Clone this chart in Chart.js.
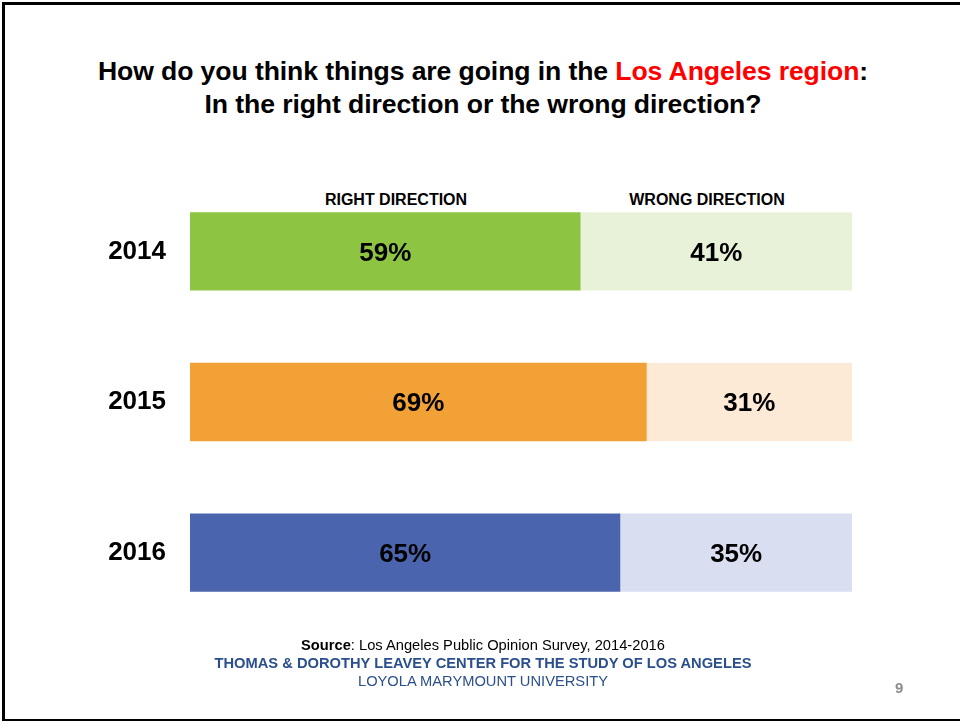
<!DOCTYPE html>
<html lang="en">
<head>
    <meta charset="UTF-8">
    <title>LA direction</title>
    <style>
        body {
            margin: 0;
            width: 960px;
            height: 721px;
            background: #fff;
            font-family: "Liberation Sans", Arial, sans-serif;
            position: relative;
            overflow: hidden;
        }
        #frame {
            position: absolute;
            left: 2px;
            top: 2px;
            width: 980px;
            height: 714px;
            border-left: 3px solid #000;
            border-top: 3px solid #000;
            border-bottom: 3px solid #000;
        }
        #title {
            position: absolute;
            left: 0;
            top: 55px;
            width: 966px;
            text-align: center;
            font-weight: bold;
            font-size: 26.6px;
            line-height: 33px;
            color: #000;
            letter-spacing: -0.1px;
        }
        #title .red { color: #ff0000; }
        .head {
            position: absolute;
            top: 190px;
            font-size: 16px;
            line-height: 20px;
            font-weight: bold;
            transform: translateX(-50%);
            white-space: nowrap;
        }
        #chartBox {
            position: absolute;
            left: 0;
            top: 0;
            width: 960px;
            height: 721px;
        }
        .foot {
            position: absolute;
            left: 0;
            width: 966px;
            text-align: center;
            font-size: 14.7px;
            line-height: 18px;
            white-space: nowrap;
        }
        #page {
            position: absolute;
            left: 895px;
            top: 679px;
            font-size: 15px;
            font-weight: bold;
            color: #8c8c8c;
        }
    </style>
</head>
<body>
    <div id="frame"></div>
    <div id="title">How do you think things are going in the <span class="red">Los Angeles region</span>:<br>In the right direction or the wrong direction?</div>
    <div class="head" style="left:396px">RIGHT DIRECTION</div>
    <div class="head" style="left:707px">WRONG DIRECTION</div>
    <div id="chartBox"><canvas id="myChart"></canvas></div>
    <div class="foot" style="top:636px"><b>Source</b>: Los Angeles Public Opinion Survey, 2014-2016</div>
    <div class="foot" style="top:654px; color:#2a4f8c; font-weight:bold">THOMAS &amp; DOROTHY LEAVEY CENTER FOR THE STUDY OF LOS ANGELES</div>
    <div class="foot" style="top:672px; color:#2a4f8c">LOYOLA MARYMOUNT UNIVERSITY</div>
    <div id="page">9</div>

    <script src="https://cdn.jsdelivr.net/npm/chart.js"></script>
    <script>
        // chart data
        var years = ['2014', '2015', '2016'];
        var rightDirection = [59, 69, 65];
        var wrongDirection = [41, 31, 35];

        var rightColors = ['#8dc542', '#f2a136', '#4a65ae'];
        var wrongColors = ['#e8f2d9', '#fdead6', '#d9dff0'];

        // draws the percent in the middle of every bar piece
        var barLabels = {
            id: 'barLabels',
            afterDatasetsDraw: function(chart) {
                var ctx = chart.ctx;
                ctx.save();
                ctx.font = 'bold 26px "Liberation Sans", Arial, sans-serif';
                ctx.fillStyle = '#000';
                ctx.textAlign = 'center';
                ctx.textBaseline = 'middle';
                chart.data.datasets.forEach(function(ds, i) {
                    chart.getDatasetMeta(i).data.forEach(function(bar, j) {
                        var p = bar.getProps(['x', 'y', 'base'], true);
                        ctx.fillText(ds.data[j] + '%', (p.x + p.base) / 2, p.y + 2);
                    });
                });
                ctx.restore();
            }
        };

        var ctx = document.getElementById('myChart').getContext('2d');
        window.myChart = new Chart(ctx, {
            type: 'bar',
            data: {
                labels: years,
                datasets: [{
                    label: 'Right direction',
                    data: rightDirection,
                    backgroundColor: rightColors,
                    borderWidth: 0
                }, {
                    label: 'Wrong direction',
                    data: wrongDirection,
                    backgroundColor: wrongColors,
                    borderWidth: 0
                }]
            },
            options: {
                indexAxis: 'y',
                responsive: true,
                maintainAspectRatio: false,
                animation: false,
                layout: {
                    padding: { left: 0, right: 108, top: 176, bottom: 93 }
                },
                datasets: {
                    bar: { barPercentage: 0.52, categoryPercentage: 1 }
                },
                plugins: {
                    legend: { display: false },
                    tooltip: { enabled: false }
                },
                scales: {
                    x: {
                        stacked: true,
                        min: 0,
                        max: 100,
                        display: false
                    },
                    y: {
                        stacked: true,
                        grid: { display: false },
                        border: { display: false },
                        ticks: {
                            color: '#000',
                            padding: 16,
                            font: { family: '"Liberation Sans", Arial, sans-serif', size: 26, weight: 'bold' }
                        },
                        afterFit: function(scale) { scale.width = 190; }
                    }
                }
            },
            plugins: [barLabels]
        });
    </script>
</body>
</html>
